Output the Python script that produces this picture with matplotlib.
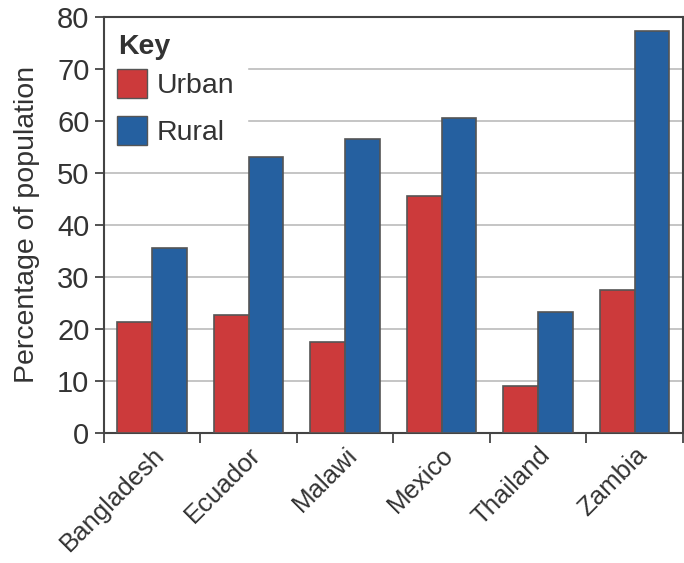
import numpy as np
from matplotlib import pyplot as plt
from matplotlib.patches import Patch

countries = ["Bangladesh", "Ecuador", "Malawi", "Mexico", "Thailand", "Zambia"]
urban = [21.3, 22.7, 17.4, 45.6, 9.0, 27.4]
rural = [35.5, 53.0, 56.5, 60.6, 23.3, 77.2]
yticks = [0, 10, 20, 30, 40, 50, 60, 70, 80]

red = "#cc3a3b"
blue = "#2560a0"
edge = "#555555"
txt = "#333333"
fs = 20.5

plt.rcParams['font.family'] = ['Liberation Sans', 'DejaVu Sans']

fig = plt.figure(figsize=(6.84, 5.63), dpi=100)
ax = fig.add_axes([0.152, 0.231, 0.8465, 0.739])

x = np.arange(len(countries))
w = 0.36
ax.bar(x - w / 2, urban, w, color=red, edgecolor=edge, linewidth=1.2, zorder=3)
ax.bar(x + w / 2, rural, w, color=blue, edgecolor=edge, linewidth=1.2, zorder=3)

ax.set_xlim(-0.5, len(countries) - 0.5)
ax.set_ylim(0, 80)
ax.set_yticks(yticks)
ax.yaxis.grid(True, color="#bbbbbb", linewidth=1.2, zorder=0)
ax.set_axisbelow(True)

# ticks sit between the groups, labels sit at group centres
ax.set_xticks(np.arange(len(countries) + 1) - 0.5)
ax.set_xticklabels([])
ax.set_xticks(x, minor=True)
ax.set_xticklabels(countries, minor=True, rotation=45, ha="right",
                   rotation_mode="anchor", fontsize=18.5, color=txt)
ax.tick_params(axis="x", which="minor", length=0, pad=7)
ax.tick_params(axis="x", which="major", length=7, width=1.3, color="#444444")
ax.tick_params(axis="y", length=6.5, width=1.3, color="#444444", pad=4,
               labelsize=21, labelcolor=txt)

for s in ax.spines.values():
    s.set_color("#444444")
    s.set_linewidth(1.5)

ax.set_ylabel("Percentage of population", fontsize=fs, color=txt)
ax.yaxis.set_label_coords(-0.11, 0.5)

# key: bold heading as its own text, entries in a borderless legend below it
ax.text(0.024, 0.958, "Key", transform=ax.transAxes, fontsize=fs,
        fontweight="bold", color=txt, va="top", ha="left", zorder=4)
handles = [Patch(facecolor=red, edgecolor=edge, label="Urban"),
           Patch(facecolor=blue, edgecolor=edge, label="Rural")]
leg = ax.legend(handles=handles, loc="upper left", bbox_to_anchor=(0.0, 0.906),
                fontsize=fs, frameon=True, fancybox=False, framealpha=1,
                edgecolor="white", handlelength=1.05, handleheight=1.2,
                handletextpad=0.35, labelspacing=0.58, borderaxespad=0.0,
                borderpad=0.45)
for t in leg.get_texts():
    t.set_color(txt)
leg.set_zorder(2)

fig.savefig("out.png", dpi=100)
